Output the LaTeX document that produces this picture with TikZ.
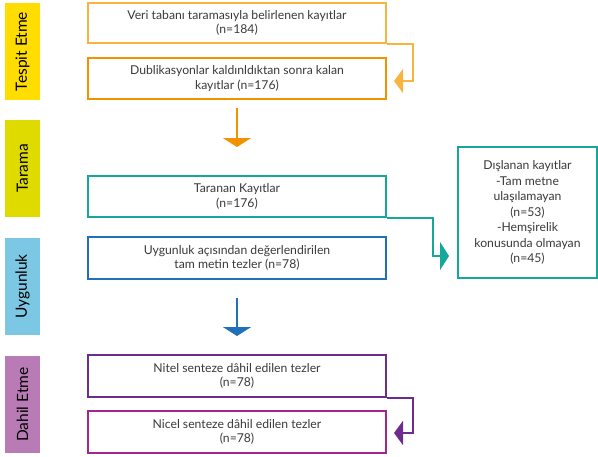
\documentclass[tikz,border=0pt]{standalone}
\usepackage{fontspec}
\setmainfont{Lato}
\usetikzlibrary{arrows.meta,calc}
\definecolor{ltorange}{HTML}{F9B440}
\definecolor{orng}{HTML}{F39200}
\definecolor{teal}{HTML}{14A79A}
\definecolor{blu}{HTML}{2170B8}
\definecolor{purp}{HTML}{6E2C8C}
\definecolor{magp}{HTML}{A0288F}
\definecolor{lblyellow}{HTML}{FFDD00}
\definecolor{lblolive}{HTML}{DFDB00}
\definecolor{lblblue}{HTML}{7CC8E4}
\definecolor{lblpurple}{HTML}{B97BB6}
\definecolor{txt}{HTML}{3A3A3A}
\begin{document}
\begin{tikzpicture}[x=1pt,y=-1pt,
  box/.style={draw,line width=2pt,fill=white,minimum width=298pt,minimum height=41pt,
    inner sep=0pt,align=center,text=txt,font=\fontsize{12.2}{14.5}\selectfont},
  sidelabel/.style={minimum width=35pt,minimum height=97pt,inner sep=0pt},
  sidetext/.style={rotate=90,text=black,font=\fontsize{15.5}{17}\selectfont},
  conn/.style={line width=2pt},
  bigtip/.style={-{Triangle[length=9pt,width=28pt]}},
  sidetip/.style={-{Triangle[length=9pt,width=24pt]}}]
\useasboundingbox (0,0) rectangle (598,456);
% side labels
\node[sidelabel,fill=lblyellow] (l1) at (22.5,51.5) {};
\node[sidetext] at (l1) {Tespit Etme};
\node[sidelabel,fill=lblolive] (l2) at (22.5,168.5) {};
\node[sidetext] at (l2) {Tarama};
\node[sidelabel,fill=lblblue] (l3) at (22.5,286.5) {};
\node[sidetext] at (l3) {Uygunluk};
\node[sidelabel,fill=lblpurple] (l4) at (22.5,404.5) {};
\node[sidetext] at (l4) {Dahil Etme};
% boxes
\node[box,draw=ltorange,minimum height=40pt] (b1) at (237,23) {Veri tabanı taramasıyla belirlenen kayıtlar\\(n=184)};
\node[box,draw=orng] (b2) at (237,78.5) {Dublikasyonlar kaldınldıktan sonra kalan\\kayıtlar (n=176)};
\node[box,draw=teal] (b3) at (237,196.5) {Taranan Kayıtlar\\(n=176)};
\node[box,draw=blu,minimum height=42pt] (b4) at (237,258) {Uygunluk açısından değerlendirilen\\tam metin tezler (n=78)};
\node[box,draw=purp,minimum height=42pt] (b5) at (237,376) {Nitel senteze dâhil edilen tezler\\(n=78)};
\node[box,draw=magp,minimum height=42pt] (b6) at (237,432) {Nicel senteze dâhil edilen tezler\\(n=78)};
\node[draw=teal,line width=2pt,fill=white,minimum width=139pt,minimum height=131pt,inner sep=0pt,
  align=center,text=txt,font=\fontsize{12.2}{15.5}\selectfont] (dis) at (527.5,212.5)
  {Dışlanan kayıtlar\\-Tam metne\\ulaşılamayan\\(n=53)\\-Hemşirelik\\konusunda olmayan\\(n=45)};
% down arrows
\coordinate (a1s) at (237,108);
\coordinate (a1e) at (237,147);
\coordinate (a2s) at (237,298);
\coordinate (a2e) at (237,336);
\draw[conn,orng,bigtip] (a1s) -- (a1e);
\draw[conn,blu,bigtip] (a2s) -- (a2e);
% side connectors
\draw[conn,ltorange,sidetip,shorten >=7pt] (b1.south east) -- ++(26,0) |- ([yshift=-2.5pt]b2.east);
\draw[conn,teal,bigtip,shorten >=8pt] (b3.south east) -- ++(46,0) |- ($(dis.south west)+(0,-23)$);
\draw[conn,purp,sidetip,shorten >=7pt] (b5.south east) -- ++(26,0) |- ([yshift=-1pt]b6.east);
\end{tikzpicture}
\end{document}
